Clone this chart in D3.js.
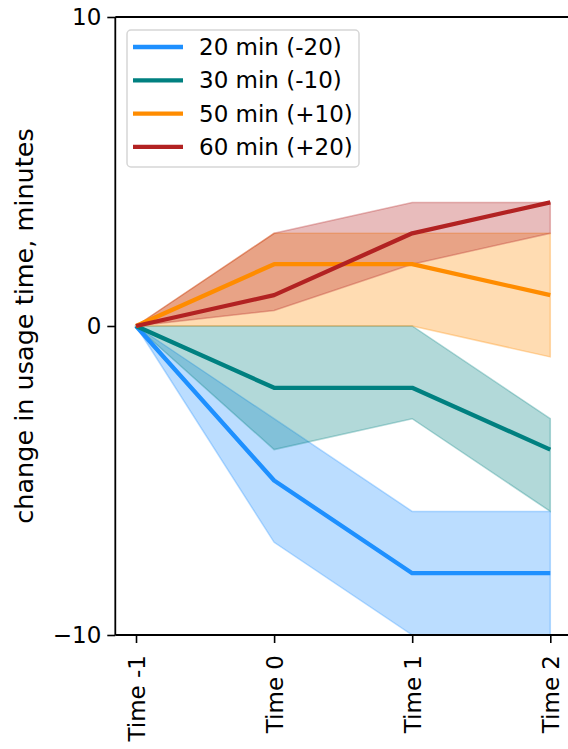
<!DOCTYPE html>
<html><head><meta charset="utf-8">
<script src="https://cdn.jsdelivr.net/npm/d3@7"></script>
<style>body{margin:0;background:#fff}text{font-family:"DejaVu Sans",sans-serif;fill:#000}</style>
</head><body><svg id="c" width="568" height="749"></svg>
<script>
const timeLabels = ["Time -1", "Time 0", "Time 1", "Time 2"];
const seriesNames = ["20 min (-20)", "30 min (-10)", "50 min (+10)", "60 min (+20)"];
const seriesColors = ["#1e90ff", "#008080", "#ff8c00", "#b22222"];
const mean20 = [0, -5, -8, -8], low20 = [0, -7, -10, -10], high20 = [0, -3, -6, -6];
const mean30 = [0, -2, -2, -4], low30 = [0, -4, -3, -6], high30 = [0, 0, 0, -3];
const mean50 = [0, 2, 2, 1],   low50 = [0, 0, 0, -1],   high50 = [0, 3, 3, 3];
const mean60 = [0, 1, 3, 4],   low60 = [0, 0.5, 2, 3],  high60 = [0, 3, 4, 4];
const yTicks = [-10, 0, 10];

const series = [
  {name: seriesNames[0], color: seriesColors[0], mean: mean20, low: low20, high: high20},
  {name: seriesNames[1], color: seriesColors[1], mean: mean30, low: low30, high: high30},
  {name: seriesNames[2], color: seriesColors[2], mean: mean50, low: low50, high: high50},
  {name: seriesNames[3], color: seriesColors[3], mean: mean60, low: low60, high: high60}
];

const L = 115.3, R = 571, T = 17, B = 635;
const svg = d3.select("#c");
const x = d3.scaleLinear().domain([-0.15, 3.15]).range([L, R]);
const y = d3.scaleLinear().domain([-10, 10]).range([B, T]);
const idx = d3.range(timeLabels.length);

svg.append("clipPath").attr("id","clip").append("rect")
  .attr("x", L).attr("y", T).attr("width", R - L).attr("height", B - T);
const plot = svg.append("g").attr("clip-path","url(#clip)");

const area = s => d3.area().x(i => x(i)).y0(i => y(s.low[i])).y1(i => y(s.high[i]))(idx);
const line = s => d3.line().x(i => x(i)).y(i => y(s.mean[i]))(idx);

series.forEach(s => {
  plot.append("path").attr("d", area(s))
    .attr("fill", s.color).attr("fill-opacity", 0.3)
    .attr("stroke", s.color).attr("stroke-opacity", 0.3).attr("stroke-width", 1.5);
});
series.forEach(s => {
  plot.append("path").attr("d", line(s))
    .attr("fill", "none").attr("stroke", s.color).attr("stroke-width", 4.3)
    .attr("stroke-linejoin", "round").attr("stroke-linecap", "butt");
});

// axes
const yAxis = d3.axisLeft(y).tickValues(yTicks).tickSize(8).tickPadding(6)
  .tickFormat(d => d < 0 ? "\u2212" + Math.abs(d) : String(d));
const gy = svg.append("g").attr("transform", `translate(${L},0)`).call(yAxis);
gy.select(".domain").remove();
gy.selectAll(".tick line").attr("stroke", "#000").attr("stroke-width", 1.6);
gy.selectAll(".tick text").attr("font-size", 23).attr("font-family", "DejaVu Sans").attr("fill", "#000");

const xAxis = d3.axisBottom(x).tickValues(idx).tickSize(8).tickFormat(i => timeLabels[i]);
const gx = svg.append("g").attr("transform", `translate(0,${B})`).call(xAxis);
gx.select(".domain").remove();
gx.selectAll(".tick line").attr("stroke", "#000").attr("stroke-width", 1.6);
gx.selectAll(".tick text").attr("font-size", 23).attr("font-family", "DejaVu Sans").attr("fill", "#000")
  .attr("transform", "translate(0,20) rotate(-90)").attr("text-anchor", "end")
  .attr("x", 0).attr("y", 0).attr("dy", "0.35em");

// spines
svg.append("line").attr("x1", L).attr("x2", L).attr("y1", T).attr("y2", B).attr("stroke", "#000").attr("stroke-width", 1.8);
svg.append("line").attr("x1", L).attr("x2", R).attr("y1", B).attr("y2", B).attr("stroke", "#000").attr("stroke-width", 1.8);
svg.append("line").attr("x1", L).attr("x2", R).attr("y1", T).attr("y2", T).attr("stroke", "#000").attr("stroke-width", 1.8);

// y label
svg.append("text").attr("transform", `translate(24,${(T + B) / 2}) rotate(-90)`)
  .attr("text-anchor", "middle").attr("dy", "0.35em").attr("font-size", 25.5)
  .text("change in usage time, minutes");

// legend
const lg = svg.append("g");
lg.append("rect").attr("x", 127).attr("y", 30).attr("width", 232).attr("height", 137)
  .attr("rx", 4).attr("fill", "#fff").attr("fill-opacity", 0.8).attr("stroke", "#d6d6d6").attr("stroke-width", 1.5);
series.forEach((s, k) => {
  const yy = 47 + k * 33.3;
  lg.append("line").attr("x1", 133).attr("x2", 183).attr("y1", yy).attr("y2", yy)
    .attr("stroke", s.color).attr("stroke-width", 4.3);
  lg.append("text").attr("x", 199).attr("y", yy).attr("dy", "0.35em").attr("font-size", 23).text(s.name);
});
</script></body></html>
